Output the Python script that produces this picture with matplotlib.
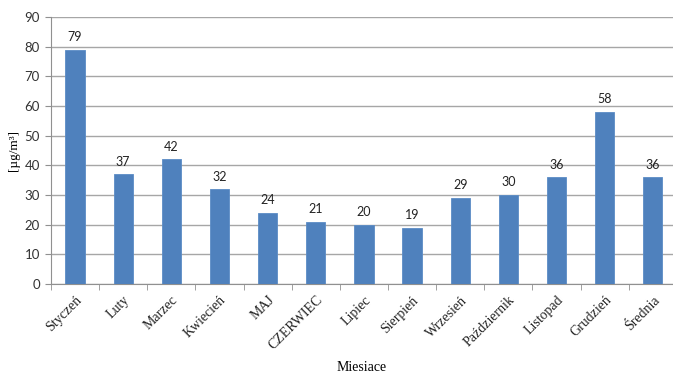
import matplotlib
matplotlib.use('Agg')

import matplotlib.pyplot as plt
import numpy as np

months = ["Styczeń", "Luty", "Marzec", "Kwiecień", "MAJ", "CZERWIEC", "Lipiec",
          "Sierpień", "Wrzesień", "Październik", "Listopad", "Grudzień", "Średnia"]
values = [79, 37, 42, 32, 24, 21, 20, 19, 29, 30, 36, 58, 36]
yticks = [0, 10, 20, 30, 40, 50, 60, 70, 80, 90]

fig = plt.figure(figsize=(6.73, 3.74), dpi=100)
ax = fig.add_axes([51 / 673, 1 - 284 / 374, 1 - 51 / 673, (284 - 17) / 374])

x = np.arange(len(months))
bars = ax.bar(x, values, width=0.4, color="#4F81BD", edgecolor="#5B8CC6",
              linewidth=0.6, zorder=3)

# value labels over the bars
for xi, v in zip(x, values):
    ax.text(xi, v + 2.2, str(v), ha="center", va="bottom",
            fontsize=9, family="Lato", color="#222222")

ax.set_ylim(0, 90)
ax.set_xlim(-0.5, 12.42)
ax.set_yticks(yticks)
ax.set_yticklabels([str(t) for t in yticks], family="Lato", fontsize=9.5,
                   color="#333333")
ax.yaxis.grid(True, color="#A6A6A6", linewidth=1.0, zorder=0)

ax.set_xticks(x)
ax.set_xticklabels(months, rotation=45, ha="right", rotation_mode="anchor",
                   family="Liberation Serif", fontsize=10, color="#222222")
ax.set_xticks(np.arange(-0.5, 12.5, 1), minor=True)
ax.tick_params(axis="x", which="major", length=0, pad=7)
ax.tick_params(axis="x", which="minor", length=4, color="#909090", direction="out")
ax.tick_params(axis="y", length=4, color="#909090", pad=4)

for side in ["top", "right"]:
    ax.spines[side].set_visible(False)
ax.spines["left"].set_color("#909090")
ax.spines["bottom"].set_color("#909090")

ax.set_xlabel("Miesiace", family="Liberation Serif", fontsize=10, labelpad=6)
ax.set_ylabel("[µg/m³]", family="Liberation Serif", fontsize=9.5, labelpad=3)

fig.savefig("out.png", dpi=100)
